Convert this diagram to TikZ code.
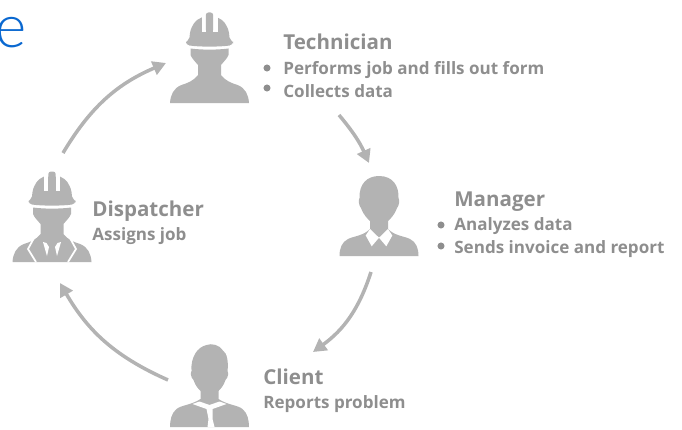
\documentclass[tikz,border=0pt]{standalone}
\usepackage{fontspec}
\setmainfont{Open Sans}
\newfontfamily\titlefont{Lato Light}
\usetikzlibrary{arrows.meta}
\definecolor{icongray}{HTML}{B3B3B3}
\definecolor{textgray}{HTML}{8E8E8E}
\definecolor{titleblue}{HTML}{0A68D0}
\tikzset{
	flowarrow/.style={draw=icongray, line width=2pt, -{Triangle[length=7.5pt,width=8pt]}},
	headtext/.style={anchor=base west, inner sep=0pt, text=textgray, font=\fontsize{11.7}{14}\selectfont\bfseries},
	subtext/.style={anchor=base west, inner sep=0pt, text=textgray, font=\fontsize{9.7}{12}\selectfont\bfseries},
	dotmark/.style={circle, fill=textgray, inner sep=0pt, minimum size=4pt},
	hardhat/.pic={
		\fill[icongray] (-22,-62) .. controls (-20,-64) and (-19.5,-67) .. (-19.5,-70) .. controls (-18,-78) and (-14,-83) .. (-8,-85.5) -- (8,-85.5) .. controls (14,-83) and (18,-78) .. (19.5,-70) .. controls (19.5,-67) and (20,-64) .. (22,-62) -- cycle;
		\fill[white] (-8,-92) rectangle (-3.7,-71);
		\fill[white] (3.7,-92) rectangle (8,-71);
		\fill[icongray, rounded corners=1.5pt] (-3.7,-71) rectangle (3.7,-90.5);
		\fill[icongray, rounded corners=2pt] (-23.5,-58) -- (-23.5,-63) -- (23.5,-63) -- (23.5,-58) .. controls (10,-56) and (-10,-56) .. (-23.5,-58) -- cycle;
	},
	hatbody/.pic={
		\fill[icongray] (-19,-54.5) .. controls (-8,-53) and (8,-53) .. (19,-54.5) -- (19,-48) .. controls (18,-45) and (14,-41) .. (11.5,-38) -- (11.5,-28) .. controls (16,-22) and (22,-20) .. (28,-18) .. controls (36,-15) and (39,-8) .. (39.5,0) -- (-39.5,0) .. controls (-39,-8) and (-36,-15) .. (-28,-18) .. controls (-22,-20) and (-16,-22) .. (-11.5,-28) -- (-11.5,-38) .. controls (-14,-41) and (-18,-45) .. (-19,-48) -- cycle;
	},
	managerhead/.pic={
		\fill[icongray] (-19.5,-58) .. controls (-20,-72) and (-12,-80) .. (0,-80) .. controls (14,-80) and (20,-70) .. (19.5,-58) .. controls (21,-56) and (20,-50) .. (18,-48) .. controls (15,-40) and (11,-37) .. (9,-35) -- (9,-27) .. controls (16,-20) and (25,-20) .. (31,-17) .. controls (37,-14) and (39.5,-8) .. (39.5,0) -- (-39.5,0) .. controls (-39.5,-8) and (-37,-14) .. (-31,-17) .. controls (-25,-20) and (-16,-20) .. (-9,-27) -- (-9,-35) .. controls (-11,-37) and (-15,-40) .. (-18,-48) .. controls (-20,-50) and (-21,-56) .. (-19.5,-58) -- cycle;
		\fill[white] (-13.3,-20.5) -- (-7.3,-9.7) -- (0,-18.3) -- (-9,-27) -- cycle;
		\fill[white] (13.3,-20.5) -- (7.3,-9.7) -- (0,-18.3) -- (9,-27) -- cycle;
	},
	clienthead/.pic={
		\fill[icongray] (-18,-56) .. controls (-19,-70) and (-12,-80) .. (-3,-82) .. controls (2,-84) and (10,-82) .. (13,-77) .. controls (18,-74) and (19,-64) .. (18,-56) .. controls (19,-54) and (19,-50) .. (16,-47) .. controls (14,-41) and (11,-38) .. (9,-36) -- (9,-28) .. controls (18,-22) and (28,-22) .. (33,-18) .. controls (38,-14) and (39.5,-7) .. (39.5,0) -- (-39.5,0) .. controls (-39.5,-7) and (-38,-14) .. (-33,-18) .. controls (-28,-22) and (-18,-22) .. (-9,-28) -- (-9,-36) .. controls (-11,-38) and (-14,-41) .. (-16,-47) .. controls (-19,-50) and (-19,-54) .. (-18,-56) -- cycle;
		\fill[white] (-17,-23) -- (-10,-25.5) -- (0,-22) -- (10,-25.5) -- (17,-23) -- (3,-18) -- (3,-8) -- (5,0) -- (-2,0) -- (-1,-8) -- (-3,-18) -- cycle;
	},
	suitlines/.pic={
		\draw[white, line width=1pt] (-18,-24) -- (-24,-13) -- (-16,0);
		\draw[white, line width=1pt] (18,-24) -- (24,-13) -- (16,0);
		\fill[white] (-9,-20) -- (-5.5,-19) -- (-3,-15) -- (-5,-6) -- cycle;
		\fill[white] (9,-20) -- (5.5,-19) -- (3,-15) -- (5,-6) -- cycle;
	}
}
\begin{document}
\begin{tikzpicture}[x=0.02cm, y=-0.02cm]
	\useasboundingbox (0,0) rectangle (682,429);
	\begin{scope}
		\clip (0,0) rectangle (682,429);
		\node[anchor=base west, inner sep=0pt, text=titleblue, font=\fontsize{34}{40}\selectfont\titlefont] (titletail) at (-5,48) {e};

		\pic (techhat) at (209.5,103) {hardhat};
		\pic (techbody) at (209.5,103) {hatbody};
		\pic (disphat) at (52,262) {hardhat};
		\pic (dispbody) at (52,262) {hatbody};
		\pic (dispsuit) at (52,262) {suitlines};
		\pic (mgrbody) at (379,256) {managerhead};
		\pic (clientbody) at (209.5,427) {clienthead};
	\end{scope}

	\coordinate (dispout) at (63,153);
	\coordinate (techin) at (166,63);
	\coordinate (techout) at (339,115);
	\coordinate (mgrin) at (369,163);
	\coordinate (mgrout) at (371,272);
	\coordinate (clientin) at (313,352);
	\coordinate (clientout) at (168,380);
	\coordinate (dispin) at (60,283);

	\draw[flowarrow] (dispout) to[bend left=18] (techin);
	\draw[flowarrow] (techout) to[bend left=8] (mgrin);
	\draw[flowarrow] (mgrout) to[bend left=18] (clientin);
	\draw[flowarrow] (clientout) to[bend left=18] (dispin);

	\node[headtext] (techname) at (283,50) {Technician};
	\node[subtext] (techjob) at (283,74) {Performs job and fills out form};
	\node[subtext] (techdata) at (283,97) {Collects data};
	\node[dotmark] (techdota) at (267,68) {};
	\node[dotmark] (techdotb) at (267,88) {};

	\node[headtext] (mgrname) at (454,206) {Manager};
	\node[subtext] (mgrdata) at (454,230) {Analyzes data};
	\node[subtext] (mgrsend) at (454,253) {Sends invoice and report};
	\node[dotmark] (mgrdota) at (441,225) {};
	\node[dotmark] (mgrdotb) at (441,246) {};

	\node[headtext] (dispname) at (92,216) {Dispatcher};
	\node[subtext] (dispjob) at (92,240) {Assigns job};

	\node[headtext] (clientname) at (263,384) {Client};
	\node[subtext] (clientjob) at (263,408) {Reports problem};
\end{tikzpicture}
\end{document}
